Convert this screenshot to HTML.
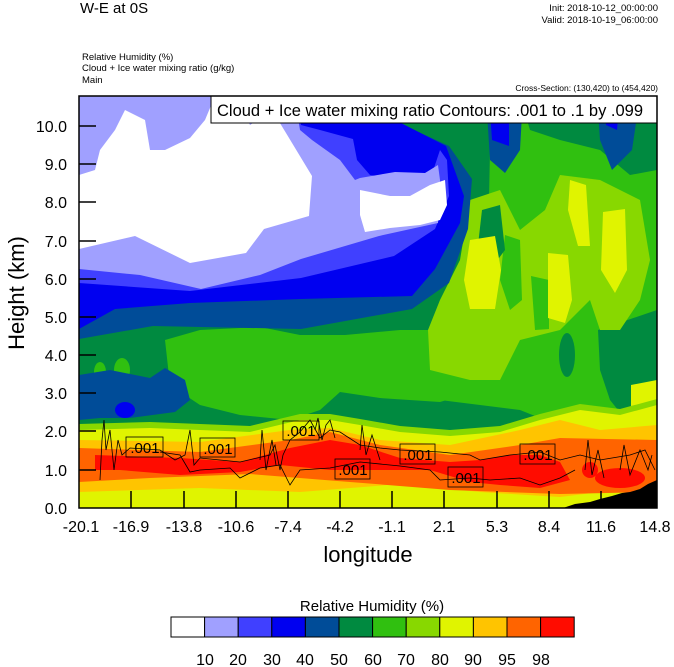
<!DOCTYPE html>
<html><head><meta charset="utf-8"><style>
html,body{margin:0;padding:0;background:#fff;}
svg{display:block;font-family:"Liberation Sans",Arial,sans-serif;}
</style></head><body>
<svg width="674" height="667" viewBox="0 0 674 667" xmlns="http://www.w3.org/2000/svg">
<defs><clipPath id="pc"><rect x="79" y="96" width="578" height="412"/></clipPath></defs>
<text x="80" y="13" font-size="15">W-E at 0S</text>
<text x="658" y="11" font-size="9.5" text-anchor="end">Init: 2018-10-12_00:00:00</text>
<text x="658" y="23" font-size="9.5" text-anchor="end">Valid: 2018-10-19_06:00:00</text>
<text x="82" y="60" font-size="9.5">Relative Humidity   (%)</text>
<text x="82" y="71" font-size="9.5">Cloud + Ice water mixing ratio   (g/kg)</text>
<text x="82" y="83" font-size="9.5">Main</text>
<text x="658" y="91" font-size="8.5" text-anchor="end">Cross-Section: (130,420) to (454,420)</text>

<g clip-path="url(#pc)">
<rect x="79" y="96" width="578" height="412" fill="#30c010"/>
<!-- dark green -->
<path fill="#008a40" d="M79,96 L500,96 L490,150 L488,250 L470,330 L440,345 L420,380 L440,400 L480,405 L520,410 L545,420 L520,432 L470,436 L400,440 L330,436 L300,425 L250,432 L200,438 L150,432 L100,430 L79,432Z"/>
<path fill="#008a40" d="M598,330 L657,310 L657,430 L630,425 L610,400 L600,370Z"/>
<path fill="#008a40" d="M520,96 L657,96 L657,170 L630,175 L600,150 L560,140 L530,130Z"/>
<ellipse cx="567" cy="355" rx="8" ry="22" fill="#008a40"/>
<ellipse cx="490" cy="340" rx="12" ry="25" fill="#008a40"/>
<!-- 70 green blobs within dark green -->
<path fill="#30c010" d="M165,340 L200,330 L260,327 L300,335 L345,335 L400,330 L470,330 L485,360 L480,390 L440,402 L380,398 L340,392 L320,410 L290,420 L240,415 L200,405 L170,385Z"/>
<ellipse cx="100" cy="372" rx="6" ry="10" fill="#30c010"/>
<ellipse cx="122" cy="370" rx="8" ry="12" fill="#30c010"/>
<!-- 80 light green right -->
<path fill="#88d800" d="M470,200 L500,190 L520,230 L545,210 L560,175 L600,180 L640,200 L650,260 L640,300 L620,330 L600,330 L590,300 L560,330 L520,340 L500,380 L470,380 L430,370 L428,330 L440,300 L460,260Z"/>
<path fill="#30c010" d="M505,235 L520,240 L522,300 L510,310 L500,280Z"/>
<path fill="#30c010" d="M531,276 L549,280 L549,329 L535,330Z"/>
<path fill="#008a40" d="M482,210 L500,205 L505,250 L490,270 L478,245Z"/>
<!-- yellow streaks -->
<path fill="#e0f400" d="M470,240 L495,236 L501,270 L495,309 L470,309 L464,280Z"/>
<path fill="#e0f400" d="M548,253 L568,255 L572,300 L565,323 L548,318Z"/>
<path fill="#e0f400" d="M570,180 L586,185 L590,246 L578,246 L568,210Z"/>
<path fill="#e0f400" d="M603,212 L625,209 L627,270 L615,293 L601,270Z"/>
<path fill="#e0f400" d="M631,385 L657,380 L657,416 L631,416Z"/>
<!-- dark blue 50 -->
<path fill="#004c98" d="M79,96 L368,96 L375,116 L412,129 L449,146 L472,179 L468,229 L449,283 L412,309 L301,329 L153,326 L79,339Z"/>
<path fill="#004c98" d="M79,375 L110,370 L150,378 L165,368 L185,380 L190,400 L175,412 L130,418 L100,418 L79,420Z"/>
<path fill="#004c98" d="M486,96 L523,96 L520,150 L505,173 L490,160Z"/>
<path fill="#004c98" d="M597,96 L640,96 L632,150 L612,170 L600,140Z"/>
<!-- blue 40 -->
<path fill="#0000f0" d="M79,96 L301,96 L368,116 L401,123 L446,146 L464,196 L460,223 L435,269 L412,296 L301,299 L190,303 L115,309 L79,329Z"/>
<ellipse cx="125" cy="410" rx="10" ry="8" fill="#0000f0"/>
<path fill="#0000f0" d="M490,110 L509,110 L509,146 L492,140Z"/>
<path fill="#0000f0" d="M605,96 L620,96 L617,130 L606,125Z"/>
<!-- 30 -->
<path fill="#4040ff" d="M79,96 L297,96 L301,125 L320,130 L353,139 L357,160 L370,175 L400,180 L430,180 L440,150 L447,160 L449,196 L435,229 L394,256 L301,278 L190,291 L79,283Z"/>
<!-- 20 -->
<path fill="#a0a0ff" d="M79,96 L290,96 L295,100 L300,130 L312,140 L340,160 L355,180 L360,178 L395,172 L425,173 L438,165 L440,180 L438,223 L379,236 L301,259 L260,275 L201,289 L140,275 L79,269Z"/>
<!-- white -->
<path fill="#fff" d="M79,249 L135,236 L190,263 L246,253 L264,229 L309,216 L312,176 L286,133 L272,110 L250,125 L235,96 L215,96 L205,120 L190,138 L165,150 L150,150 L145,120 L125,110 L115,130 L100,150 L95,170 L79,175Z"/>
<path fill="#fff" d="M360,190 L390,196 L410,196 L430,185 L445,180 L447,205 L440,220 L420,225 L390,228 L365,232 L360,215Z"/>
<!-- lower band -->
<path fill="#88d800" d="M79,424 L150,422 L250,426 L300,414 L330,414 L360,419 L400,426 L450,430 L500,426 L540,414 L580,404 L620,409 L657,399 L657,508 L79,508Z"/>
<path fill="#e0f400" d="M79,430 L150,428 L250,432 L300,420 L330,420 L360,425 L400,432 L450,436 L500,432 L540,420 L580,410 L620,415 L657,405 L657,508 L79,508Z"/>
<path fill="#ffc400" d="M79,440 L200,442 L290,430 L330,428 L380,440 L450,445 L520,430 L560,420 L600,430 L657,425 L657,485 L560,497 L480,492 L400,484 L300,492 L200,488 L79,492Z"/>
<path fill="#ff6400" d="M79,448 L200,452 L290,440 L330,432 L380,445 L450,455 L520,445 L560,438 L657,440 L657,492 L560,494 L450,490 L350,482 L250,474 L150,478 L79,482Z"/>
<path fill="#ff0c00" d="M95,455 L180,458 L240,462 L290,448 L330,440 L360,445 L400,458 L450,462 L480,460 L510,455 L540,455 L560,462 L570,480 L540,488 L500,485 L470,482 L430,470 L380,470 L330,470 L280,465 L240,472 L180,475 L120,470 L95,470Z"/>
<ellipse cx="620" cy="478" rx="25" ry="10" fill="#ff0c00"/>
<ellipse cx="590" cy="470" rx="8" ry="8" fill="#ff0c00"/>
<!-- contour lines -->
<g fill="none" stroke="#000" stroke-width="0.8">
<path d="M100,480 L102,440 L104,420 L106,450 L110,430 L114,470 L118,440 L122,455 L130,448 L160,450 L175,460 L185,455 L190,430 L194,465 L200,458 L240,462 L270,455 L275,445 L280,470 L283,455 L290,440 L300,432 L310,420 L320,438 L330,430 L340,432 L360,445 L380,448 L400,450 L440,452 L470,455 L480,460 L510,455 L540,452 L560,460 L580,455 L600,460 L630,455 L645,450 L655,470"/>
<path d="M160,452 L180,455 L190,472 L200,470 L230,468 L240,478 L260,468 L280,465 L290,485 L300,470 L330,468 L360,462 L400,466 L430,470 L440,480 L470,478 L490,480 L520,478 L540,485 L560,478 L575,470"/>
<path d="M260,460 L262,430 L266,470 L272,440 L276,465 M315,430 L318,418 L322,440 L326,425 L330,420 L335,438 M360,450 L362,425 L366,455 L372,435 L380,460 M585,470 L588,440 L592,475 L598,450 L604,478 M620,470 L624,445 L630,475 L640,450 L648,470 L652,455"/>
</g>
<!-- terrain -->
<path fill="#000" d="M563,508 L575,504 L590,502 L600,499 L612,496 L622,493 L630,492 L640,489 L648,484 L657,480 L657,508Z"/>
</g>
<!-- labels -->
<g font-size="15" font-weight="bold" fill="#000" stroke="#000" stroke-width="0.8">
<rect x="126" y="437" width="37" height="20" fill="none"/>
<rect x="200" y="438" width="35" height="19" fill="none"/>
<rect x="283" y="421" width="36" height="19" fill="none"/>
<rect x="335" y="459" width="35" height="20" fill="none"/>
<rect x="400" y="444" width="35" height="20" fill="none"/>
<rect x="448" y="467" width="35" height="20" fill="none"/>
<rect x="520" y="444" width="35" height="20" fill="none"/>
</g>
<g font-size="15" fill="#000" text-anchor="middle">
<text x="145" y="453">.001</text>
<text x="218" y="454">.001</text>
<text x="301" y="436">.001</text>
<text x="353" y="475">.001</text>
<text x="418" y="460">.001</text>
<text x="466" y="483">.001</text>
<text x="538" y="460">.001</text>
</g>
<!-- legend box -->
<rect x="211" y="96" width="446" height="27" fill="#fff" stroke="#000" stroke-width="1"/>
<text x="217" y="116" font-size="16.5">Cloud + Ice water mixing ratio Contours: .001 to .1 by .099</text>
<!-- frame -->
<rect x="79" y="96" width="578" height="412" fill="none" stroke="#000" stroke-width="1.5"/>
<g stroke="#000" stroke-width="1.5">
<line x1="79" y1="126" x2="96" y2="126"/><line x1="79" y1="164" x2="96" y2="164"/><line x1="79" y1="202" x2="96" y2="202"/><line x1="79" y1="241" x2="96" y2="241"/><line x1="79" y1="279" x2="96" y2="279"/><line x1="79" y1="317" x2="96" y2="317"/><line x1="79" y1="355" x2="96" y2="355"/><line x1="79" y1="393" x2="96" y2="393"/><line x1="79" y1="431" x2="96" y2="431"/><line x1="79" y1="470" x2="96" y2="470"/>
<line x1="131" y1="508" x2="131" y2="491"/><line x1="184" y1="508" x2="184" y2="491"/><line x1="236" y1="508" x2="236" y2="491"/><line x1="288" y1="508" x2="288" y2="491"/><line x1="340" y1="508" x2="340" y2="491"/><line x1="392" y1="508" x2="392" y2="491"/><line x1="444" y1="508" x2="444" y2="491"/><line x1="497" y1="508" x2="497" y2="491"/><line x1="549" y1="508" x2="549" y2="491"/><line x1="601" y1="508" x2="601" y2="491"/>
</g>
<g font-size="16" text-anchor="end">
<text x="67" y="132">10.0</text><text x="67" y="170">9.0</text><text x="67" y="208">8.0</text><text x="67" y="247">7.0</text><text x="67" y="285">6.0</text><text x="67" y="323">5.0</text><text x="67" y="361">4.0</text><text x="67" y="399">3.0</text><text x="67" y="437">2.0</text><text x="67" y="476">1.0</text><text x="67" y="514">0.0</text>
</g>
<g font-size="16" text-anchor="middle">
<text x="81" y="532">-20.1</text><text x="131" y="532">-16.9</text><text x="184" y="532">-13.8</text><text x="236" y="532">-10.6</text><text x="288" y="532">-7.4</text><text x="340" y="532">-4.2</text><text x="392" y="532">-1.1</text><text x="444" y="532">2.1</text><text x="497" y="532">5.3</text><text x="549" y="532">8.4</text><text x="601" y="532">11.6</text><text x="655" y="532">14.8</text>
</g>
<text x="368" y="562" font-size="22" text-anchor="middle">longitude</text>
<text transform="translate(24,293) rotate(-90)" font-size="22" text-anchor="middle">Height (km)</text>
<!-- colorbar -->
<text x="372" y="611" font-size="15" text-anchor="middle">Relative Humidity  (%)</text>
<g stroke="#000" stroke-width="1">
<rect x="171" y="617" width="33.6" height="20" fill="#fff"/>
<rect x="204.6" y="617" width="33.6" height="20" fill="#a0a0ff"/>
<rect x="238.2" y="617" width="33.6" height="20" fill="#4040ff"/>
<rect x="271.8" y="617" width="33.6" height="20" fill="#0000f0"/>
<rect x="305.4" y="617" width="33.6" height="20" fill="#004c98"/>
<rect x="339" y="617" width="33.6" height="20" fill="#008a40"/>
<rect x="372.6" y="617" width="33.6" height="20" fill="#30c010"/>
<rect x="406.2" y="617" width="33.6" height="20" fill="#88d800"/>
<rect x="439.8" y="617" width="33.6" height="20" fill="#e0f400"/>
<rect x="473.4" y="617" width="33.6" height="20" fill="#ffc400"/>
<rect x="507" y="617" width="33.6" height="20" fill="#ff6400"/>
<rect x="540.6" y="617" width="33.6" height="20" fill="#ff0c00"/>
</g>
<g font-size="16" text-anchor="middle">
<text x="205" y="665">10</text><text x="238" y="665">20</text><text x="272" y="665">30</text><text x="305" y="665">40</text><text x="339" y="665">50</text><text x="373" y="665">60</text><text x="406" y="665">70</text><text x="440" y="665">80</text><text x="473" y="665">90</text><text x="507" y="665">95</text><text x="541" y="665">98</text>
</g>
</svg>
</body></html>
